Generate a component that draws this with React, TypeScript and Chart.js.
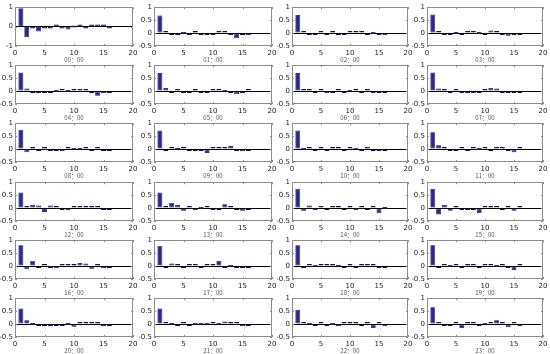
import React, { useEffect, useRef } from "react";
import { Chart, registerables } from "chart.js";

Chart.register(...registerables);

const lags = [1, 2, 3, 4, 5, 6, 7, 8, 9, 10, 11, 12, 13, 14, 15, 16];
const hourLabels = [
  "00：00", "01：00", "02：00", "03：00", "04：00", "05：00",
  "06：00", "07：00", "08：00", "09：00", "10：00", "11：00",
  "12：00", "13：00", "14：00", "15：00", "16：00", "17：00",
  "18：00", "19：00", "20：00", "21：00", "22：00", "23：00",
];
const xTicks = [0, 5, 10, 15, 20];
const yTicksFirst = [-1, 0, 1];
const yTicksOther = [-0.5, 0, 0.5, 1];

const acf00 = [0.95, -0.55, -0.05, -0.25, -0.02, -0.08, 0.1, -0.05, -0.15, 0.0, 0.05, -0.05, 0.1, 0.03, 0.08, -0.05];
const acf01 = [0.68, 0.07, -0.03, -0.02, 0.0, -0.07, 0.05, -0.01, -0.01, -0.01, 0.05, 0.05, -0.02, -0.2, -0.05, -0.08];
const acf02 = [0.7, 0.05, -0.05, -0.05, 0.06, -0.05, 0.01, -0.01, -0.02, 0.03, 0.04, 0.03, -0.02, 0.0, -0.04, -0.08];
const acf03 = [0.72, 0.04, -0.02, -0.03, 0.0, -0.05, 0.01, 0.01, 0.0, -0.05, 0.1, 0.05, -0.03, -0.1, -0.07, -0.07];
const acf04 = [0.72, 0.1, -0.01, -0.02, -0.02, -0.06, 0.0, 0.05, 0.0, 0.02, 0.05, 0.02, -0.05, -0.18, -0.08, -0.05];
const acf05 = [0.7, 0.12, -0.03, 0.03, -0.02, -0.03, 0.02, -0.05, -0.04, 0.02, 0.06, 0.0, -0.03, -0.12, -0.06, 0.02];
const acf06 = [0.7, 0.08, 0.02, -0.03, 0.03, -0.08, -0.04, 0.03, -0.02, 0.0, 0.03, -0.03, 0.04, -0.05, -0.02, -0.05];
const acf07 = [0.72, 0.1, 0.04, -0.03, 0.04, -0.02, -0.05, -0.03, -0.02, 0.06, 0.12, 0.1, -0.03, -0.02, -0.05, -0.07];
const acf08 = [0.75, -0.12, 0.07, -0.03, 0.02, -0.03, -0.05, -0.08, 0.02, 0.0, 0.0, 0.02, -0.03, 0.05, -0.07, -0.04];
const acf09 = [0.72, -0.03, 0.08, 0.0, 0.02, -0.03, -0.03, -0.02, -0.15, 0.07, 0.07, 0.07, 0.12, -0.02, -0.08, -0.04];
const acf10 = [0.72, 0.0, 0.05, -0.03, 0.02, -0.02, 0.02, 0.03, -0.05, 0.02, 0.0, -0.03, 0.02, -0.02, -0.05, -0.03];
const acf11 = [0.65, 0.15, 0.03, -0.03, -0.03, 0.06, -0.03, 0.02, 0.0, 0.02, -0.02, 0.03, 0.02, -0.05, -0.12, 0.01];
const acf12 = [0.6, 0.01, 0.12, 0.1, -0.15, 0.1, 0.07, -0.03, -0.08, 0.02, 0.02, 0.04, 0.07, 0.03, -0.07, -0.01];
const acf13 = [0.6, 0.05, 0.2, 0.12, -0.1, 0.08, -0.08, 0.0, 0.08, -0.05, -0.05, 0.15, 0.05, -0.03, -0.1, -0.04];
const acf14 = [0.75, -0.1, 0.1, -0.08, 0.05, -0.05, 0.05, 0.08, -0.05, 0.05, -0.08, 0.07, -0.03, 0.04, -0.2, 0.0];
const acf15 = [0.75, -0.25, 0.12, -0.1, 0.03, -0.05, -0.05, -0.05, -0.2, 0.05, 0.05, 0.03, -0.05, 0.07, -0.1, 0.05];
const acf16 = [0.8, -0.12, 0.2, -0.05, 0.08, -0.05, -0.08, 0.03, 0.03, 0.08, 0.12, 0.1, -0.1, 0.05, -0.08, -0.05];
const acf17 = [0.78, -0.03, 0.1, 0.03, -0.03, 0.03, 0.05, -0.05, 0.03, 0.03, 0.2, -0.03, 0.0, -0.03, -0.05, -0.05];
const acf18 = [0.8, -0.07, 0.05, 0.0, 0.02, 0.03, 0.02, 0.0, -0.02, 0.05, -0.03, 0.05, 0.02, 0.05, -0.05, -0.03];
const acf19 = [0.8, -0.05, 0.05, 0.0, 0.03, -0.03, 0.03, 0.02, -0.02, 0.03, 0.03, 0.0, 0.02, -0.05, -0.15, 0.04];
const acf20 = [0.6, 0.15, 0.0, -0.02, -0.01, -0.03, -0.03, -0.02, 0.0, -0.1, 0.08, 0.08, 0.08, 0.03, -0.08, -0.03];
const acf21 = [0.6, 0.08, 0.0, -0.03, 0.02, -0.05, 0.0, 0.0, 0.0, 0.08, 0.0, 0.1, 0.08, 0.05, -0.08, -0.02];
const acf22 = [0.55, 0.05, 0.0, -0.05, 0.05, -0.02, 0.0, -0.08, 0.02, 0.05, 0.05, -0.03, 0.07, -0.15, 0.05, -0.08];
const acf23 = [0.65, 0.05, -0.03, -0.05, 0.08, -0.15, 0.05, 0.01, -0.03, 0.0, 0.07, 0.15, 0.02, -0.12, 0.03, -0.08];

const allSeries = [
  acf00, acf01, acf02, acf03, acf04, acf05, acf06, acf07,
  acf08, acf09, acf10, acf11, acf12, acf13, acf14, acf15,
  acf16, acf17, acf18, acf19, acf20, acf21, acf22, acf23,
];

const COL_LEFT = [15, 154, 292, 427];
const COL_W = [118, 118, 116, 116];
const ROW_TOP0 = 5;
const ROW_PITCH = 58.2;
const BOX_H = 41;
const Y_AXIS_W = 15;
const X_AXIS_H = 17;
const PAD_TOP = 4;
const PAD_RIGHT = 8;

const boxPlugin = {
  id: "matBox",
  afterDatasetsDraw(chart: any) {
    const { ctx, chartArea, scales } = chart;
    const { left, top, right, bottom } = chartArea;
    ctx.save();
    ctx.strokeStyle = "#8c8c8c";
    ctx.lineWidth = 1;
    ctx.strokeRect(Math.round(left) + 0.5, Math.round(top) + 0.5, Math.round(right - left) - 1, Math.round(bottom - top) - 1);
    ctx.beginPath();
    scales.x.ticks.forEach((t: any) => {
      const px = Math.round(scales.x.getPixelForValue(t.value)) + 0.5;
      ctx.moveTo(px, bottom);
      ctx.lineTo(px, bottom - 2);
      ctx.moveTo(px, top);
      ctx.lineTo(px, top + 2);
    });
    scales.y.ticks.forEach((t: any) => {
      const py = Math.round(scales.y.getPixelForValue(t.value)) + 0.5;
      ctx.moveTo(left, py);
      ctx.lineTo(left + 2, py);
      ctx.moveTo(right, py);
      ctx.lineTo(right - 2, py);
    });
    ctx.stroke();
    ctx.restore();
  },
};

function Panel({ idx }: { idx: number }) {
  const ref = useRef<HTMLCanvasElement | null>(null);
  const col = idx % 4;
  const row = Math.floor(idx / 4);
  const boxLeft = COL_LEFT[col];
  const boxW = COL_W[col];
  const boxTop = ROW_TOP0 + row * ROW_PITCH;
  const cw = Y_AXIS_W + boxW + PAD_RIGHT;
  const ch = PAD_TOP + BOX_H + X_AXIS_H;

  useEffect(() => {
    if (!ref.current) return;
    const values = allSeries[idx];
    const first = idx === 0;
    const yTicks = first ? yTicksFirst : yTicksOther;
    const chart = new Chart(ref.current, {
      type: "bar",
      data: {
        datasets: [
          {
            data: lags.map((l, i) => ({ x: l, y: values[i] })),
            backgroundColor: "#2a288a",
            borderColor: "#12114a",
            borderWidth: 0.7,
            borderSkipped: false,
            minBarLength: 2,
            barPercentage: 0.84,
            categoryPercentage: 1,
          },
        ],
      },
      options: {
        animation: false,
        responsive: false,
        devicePixelRatio: 1,
        layout: { padding: { left: 0, top: PAD_TOP, right: PAD_RIGHT, bottom: 0 } },
        plugins: { legend: { display: false }, tooltip: { enabled: false } },
        scales: {
          x: {
            type: "linear",
            min: 0,
            max: 20,
            offset: false,
            afterBuildTicks: (s: any) => {
              s.ticks = xTicks.map((v) => ({ value: v }));
            },
            afterFit: (s: any) => {
              s.height = X_AXIS_H;
            },
            grid: { display: false, drawTicks: false, offset: false },
            border: { display: false },
            ticks: {
              padding: 3,
              autoSkip: false,
              maxRotation: 0,
              color: "#222",
              font: { family: "DejaVu Sans", size: 7 },
            },
            title: {
              display: true,
              text: hourLabels[idx],
              color: "#555",
              padding: { top: 0, bottom: 0 },
              font: { family: "Noto Sans CJK SC", size: 6, lineHeight: 1.1 },
            },
          },
          y: {
            min: yTicks[0],
            max: yTicks[yTicks.length - 1],
            afterBuildTicks: (s: any) => {
              s.ticks = yTicks.map((v) => ({ value: v }));
            },
            afterFit: (s: any) => {
              s.width = Y_AXIS_W;
            },
            grid: {
              drawTicks: false,
              color: (c: any) => (c.tick && c.tick.value === 0 ? "#000" : "rgba(0,0,0,0)"),
              lineWidth: 1,
            },
            border: { display: false },
            ticks: {
              padding: 2,
              color: "#222",
              font: { family: "DejaVu Sans", size: 7 },
              callback: (v: any) => String(v),
            },
          },
        },
      },
      plugins: [boxPlugin],
    } as any);
    return () => chart.destroy();
  }, [idx]);

  return (
    <canvas
      ref={ref}
      width={cw}
      height={ch}
      style={{
        position: "absolute",
        left: boxLeft - Y_AXIS_W,
        top: boxTop - PAD_TOP,
        width: cw,
        height: ch,
      }}
    />
  );
}

export default function App() {
  return (
    <div
      style={{
        position: "absolute",
        left: 0,
        top: 0,
        width: 550,
        height: 354,
        background: "#fff",
        overflow: "hidden",
      }}
    >
      {hourLabels.map((_, i) => (
        <Panel key={i} idx={i} />
      ))}
    </div>
  );
}
